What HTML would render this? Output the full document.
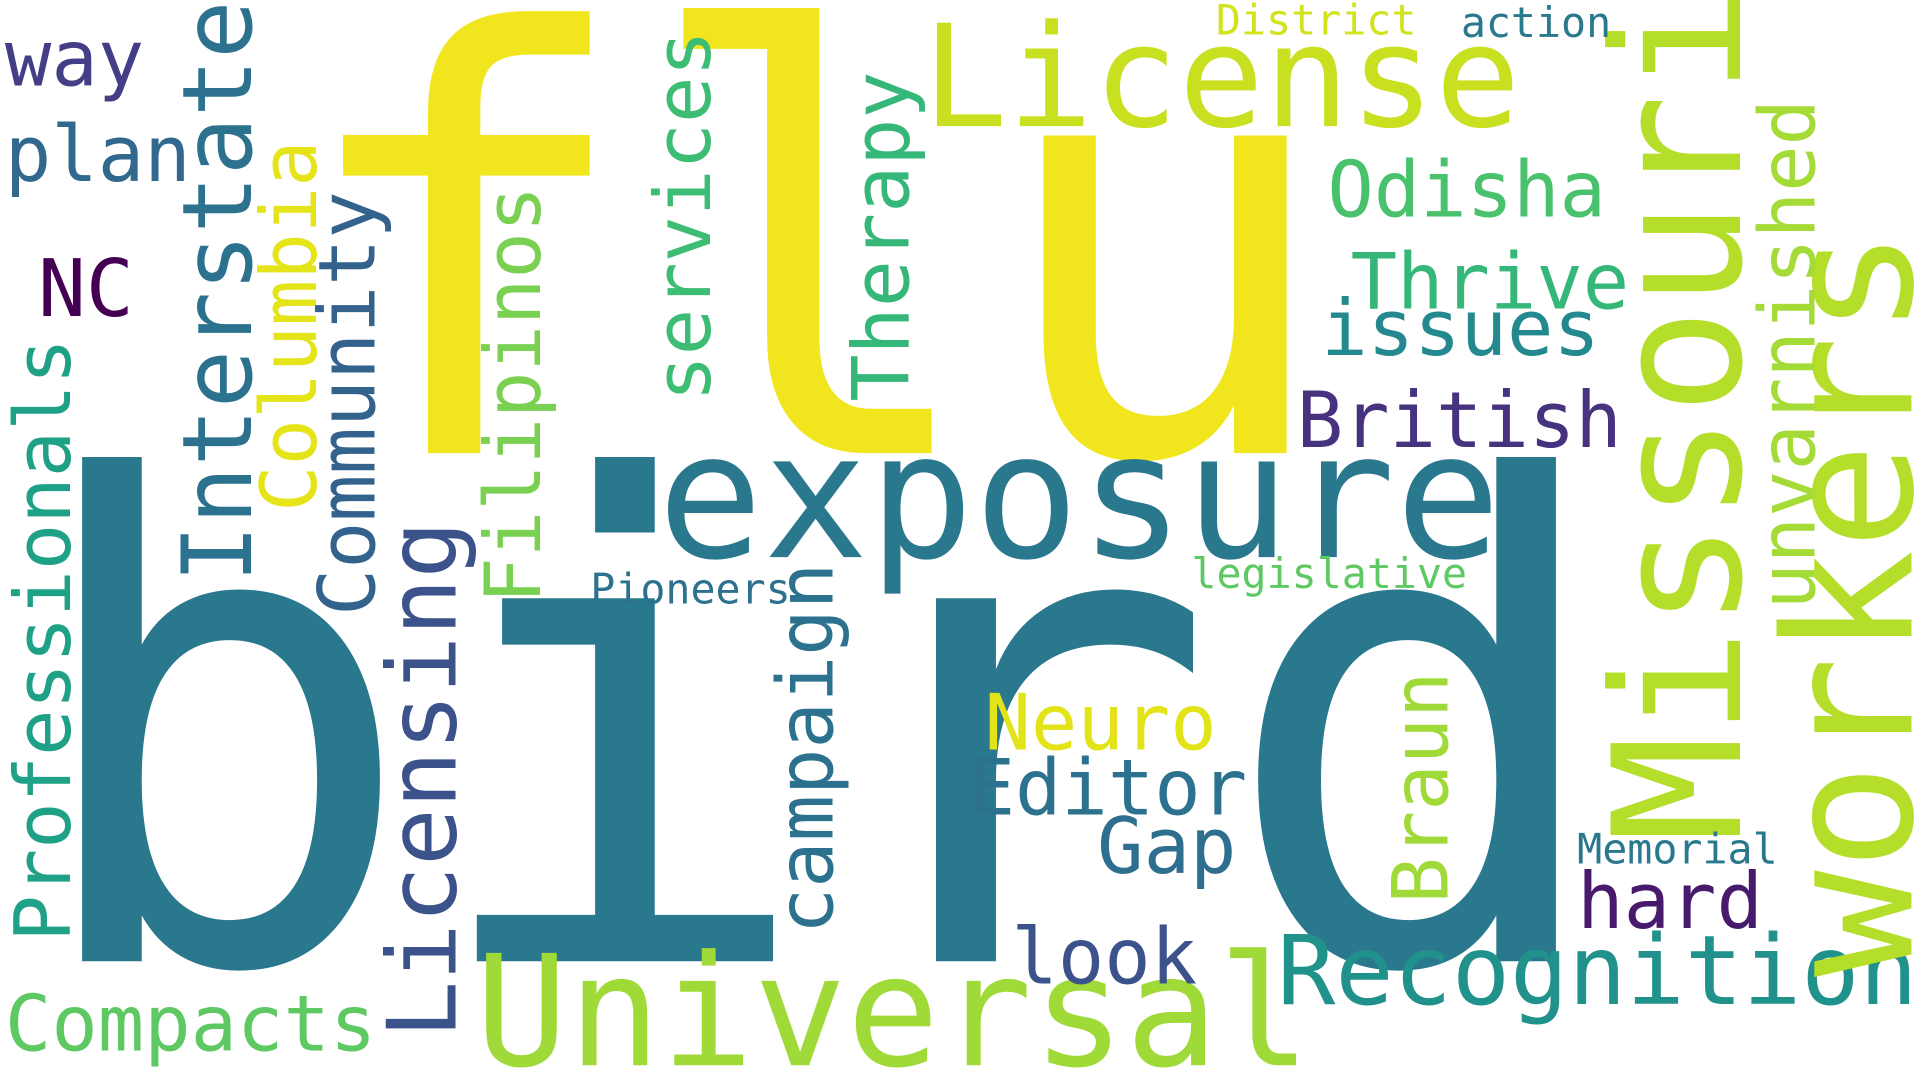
<!DOCTYPE html>
<html><head><meta charset="utf-8"><style>
html,body{margin:0;padding:0;background:#fff;overflow:hidden}
svg{display:block}
text{font-family:"DejaVu Sans Mono","Liberation Mono",monospace}
</style></head><body>
<svg width="1920" height="1080" viewBox="0 0 1568 882" preserveAspectRatio="none">
<rect width="1568" height="882" fill="#fff"/>
<g id="words"></g>
</svg>
<script>
const words=["bird","flu","exposure","License","Universal","Recognition","Missouri","workers","Interstate","Licensing","Compacts","Odisha","Thrive","issues","British","Neuro","Editor","Gap","look","hard","way","plan","NC","Professionals","Columbia","Community","Filipinos","services","campaign","Therapy","Braun","unvarnished","Memorial","legislative","Pioneers","District","action"];
const sizes=[542,475,143,116,126,79,145,145,79,78,63,63,63,63,63,63,63,63,63,63,63,63,65,63,63,64,63,63,63,64,63,63,34,34,34,34,34];
const colors=["#2a788e","#f1e51d","#2a788e","#c8e020","#a0da39","#21918c","#b5de2b","#b5de2b","#2c728e","#3b528b","#5ec962","#4ac16d","#35b779","#23898e","#46327e","#e2e418","#2c728e","#2e6e8e","#3b528b","#481a6c","#433e85","#31688e","#440154","#1fa187","#e5e419","#33638d","#7ad151","#3dbc74","#2c728e","#35b779","#a0da39","#a5db36","#2a788e","#5ec962","#2c728e","#d2e21b","#2a788e"];
const rot=[0,0,0,0,0,0,1,1,1,1,0,0,0,0,0,0,0,0,0,0,0,0,0,1,1,1,1,1,1,1,1,1,0,0,0,0,0];
const px=[16,235,537,753,388,1043,1421,1561,205,372,4,1084,1103,1079,1059,804,791,896,826,1288,4,4,31,57,258,306,441,580,680,742,1182,1482,1288,973,482,993,1193];
const py=[785,370,455,103,870,820,688,798,476,848,858,177,252,290,365,612,665,713,803,758,70,148,258,769,418,503,493,328,763,328,738,498,705,480,493,28,30];
const g=document.getElementById('words');
words.forEach((w,i)=>{
  const t=document.createElementNS('http://www.w3.org/2000/svg','text');
  
  
  t.setAttribute('font-size',sizes[i]);
  t.setAttribute('fill',colors[i]);
  t.setAttribute('x',px[i]);t.setAttribute('y',py[i]);
  if(rot[i])t.setAttribute('transform','rotate(-90 '+px[i]+' '+py[i]+')');
  t.textContent=w;g.appendChild(t);
});
</script>
</body></html>
